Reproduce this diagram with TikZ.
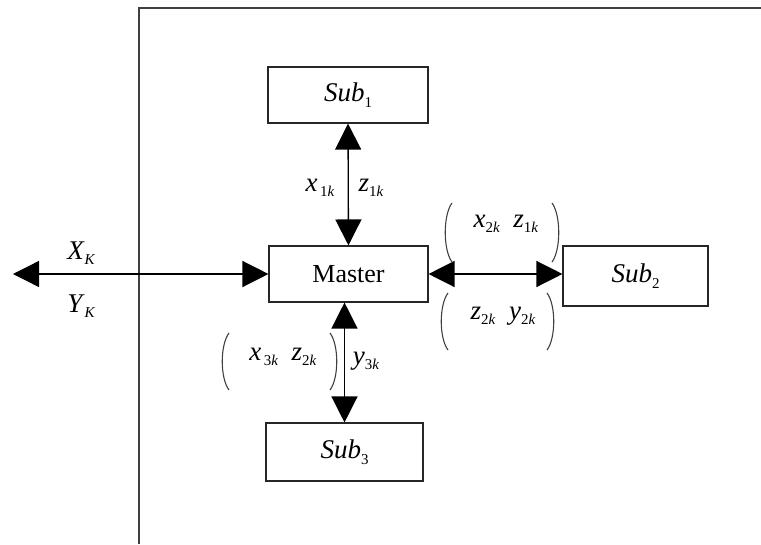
\documentclass[tikz,border=0pt]{standalone}
\usepackage{fontspec}
\setmainfont{Liberation Serif}
\usetikzlibrary{arrows.meta}
\newcommand\sv[2]{\textit{#1}\raisebox{-5.5pt}{\fontsize{15pt}{15pt}\selectfont #2}}
\begin{document}
\begin{tikzpicture}[x=1pt,y=-1pt,
  font=\fontsize{27pt}{32pt}\selectfont,
  box/.style={draw=black!85, line width=1.1pt, inner sep=0pt},
  tri/.tip={Triangle[length=26pt,width=26pt]},
  link/.style={line width=1.3pt, tri-tri},
  paren/.style={line width=1.1pt, draw=black!75},
  lbl/.style={inner sep=0pt}]
\useasboundingbox (0,0) rectangle (761,544);
% frame
\draw[line width=1.6pt, black!75] (139,544) -- (139,8) -- (761,8);
% boxes
\node[box, minimum width=160pt, minimum height=56pt] (sub1) at (348,95) {\sv{Sub}{1}};
\node[box, minimum width=159pt, minimum height=56pt, font=\fontsize{26pt}{30pt}\selectfont] (master) at (348.5,274) {Master};
\node[box, minimum width=145pt, minimum height=60pt] (sub2) at (635.5,276) {\sv{Sub}{2}};
\node[box, minimum width=157pt, minimum height=58pt] (sub3) at (344.5,452) {\sv{Sub}{3}};
\coordinate (leftend) at (13,274);
% connectors
\draw[link] (sub1.south) -- (master.north);
\draw[link] (master.east) -- (sub2.west |- master.east);
\draw[link] (sub3.north) -- (sub3.north |- master.south);
\draw[link] (leftend) -- (master.west);
% labels
\node[lbl] (xk) at (81,253) {\textit{X}\raisebox{-5.5pt}{\fontsize{15pt}{15pt}\selectfont\itshape K}};
\node[lbl] (yk) at (81,306) {\textit{Y}\raisebox{-5.5pt}{\fontsize{15pt}{15pt}\selectfont\itshape K}};
\node[lbl] (x1k) at (320,188) {\sv{x}{\,1\textit{k}}};
\node[lbl] (z1k) at (371,188) {\sv{z}{1\textit{k}}};
\node[lbl] (p2a) at (506,224) {\sv{x}{2\textit{k}}\ \ \sv{z}{1\textit{k}}};
\node[lbl] (p2b) at (503,316) {\sv{z}{2\textit{k}}\ \ \sv{y}{2\textit{k}}};
\node[lbl] (p3) at (283,357) {\sv{x}{\,3\textit{k}}\ \ \sv{z}{2\textit{k}}};
\node[lbl] (y3k) at (366,361) {\sv{y}{3\textit{k}}};
% parentheses
\draw[paren] (452,203) .. controls (443,215) and (443,250) .. (452,262);
\draw[paren] (552,203) .. controls (561,215) and (561,250) .. (552,262);
\draw[paren] (448,293) .. controls (439,305) and (439,338) .. (448,350);
\draw[paren] (547,293) .. controls (556,305) and (556,338) .. (547,350);
\draw[paren] (229,333) .. controls (220,345) and (220,378) .. (229,390);
\draw[paren] (330,333) .. controls (339,345) and (339,378) .. (330,390);
\end{tikzpicture}
\end{document}
